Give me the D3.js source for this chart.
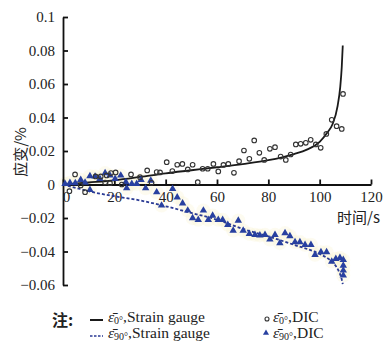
<!DOCTYPE html>
<html lang="zh">
<head>
<meta charset="UTF-8">
<style>
  body { margin: 0; background: #fff; }
  svg { display: block; }
  .tick text { font-family: "Times New Roman", "Liberation Serif", "DejaVu Serif", serif; font-size: 15px; fill: #222; }
  .cjk { font-family: "Noto Sans CJK SC", sans-serif; fill: #222; }
  .leg { font-family: "Times New Roman", "Liberation Serif", "DejaVu Serif", serif; font-size: 15.5px; fill: #222; }
</style>
</head>
<body>
<div id="chart"></div>
<script src="https://d3js.org/d3.v7.min.js"></script>
<script>
// strain gauge curves (time s, strain %)
var gauge0T = [0, 10, 20, 30, 40, 50, 60, 70, 80, 90, 95, 100, 103, 105, 107, 108, 108.6, 109]
var gauge0V = [0, 0.0012, 0.0025, 0.0045, 0.0067, 0.0085, 0.0103, 0.0122, 0.0145, 0.0182, 0.0208, 0.0255, 0.031, 0.036, 0.047, 0.058, 0.07, 0.083]
var gauge90T = [0, 5, 10, 20, 30, 40, 50, 60, 70, 80, 90, 100, 104, 106, 107.5, 108.5, 109]
var gauge90V = [0, -0.002, -0.004, -0.007, -0.0095, -0.013, -0.017, -0.021, -0.0265, -0.031, -0.036, -0.0415, -0.045, -0.048, -0.052, -0.056, -0.0595]

// DIC points
var dic0T = [2.5, 4.7, 6.9, 8.6, 12.7, 14.7, 16.4, 17, 18.3, 18.7, 20.5, 22.9, 26.5, 30, 32.8, 34.5, 36.5, 37.8, 40.4, 42.6, 44.5, 46.5, 48.6, 50.5, 52.5, 54.4, 56.4, 58.6, 60.5, 62.5, 64.4, 66.6, 68.6, 70.5, 72.6, 74.5, 76.5, 78.4, 80.6, 82.6, 84.8, 86.8, 88.7, 90.7, 92.6, 94.6, 96.5, 98.5, 100.4, 102.6, 104.7, 106.6, 108.6, 109.1]
var dic0V = [-0.004, 0.006, -0.0006, -0.0046, 0.0048, 0.0048, 0.0012, 0.0054, 0.0008, 0.0068, 0.0072, 0, 0.006, 0.0044, 0.0084, 0.001, 0.0074, 0.0072, 0.0133, 0.008, 0.0118, 0.0123, 0.009, 0.0118, 0.0014, 0.0094, 0.0094, 0.0123, 0.0078, 0.0117, 0.0123, 0.007, 0.0139, 0.0203, 0.0153, 0.0263, 0.0189, 0.0147, 0.0213, 0.0223, 0.0167, 0.0147, 0.0179, 0.0239, 0.0243, 0.0249, 0.0267, 0.0239, 0.0219, 0.0302, 0.0386, 0.0348, 0.0332, 0.0541]
var dic90T = [0.8, 2.7, 4.8, 6.9, 8.6, 10.5, 10.5, 12.5, 14.4, 16.4, 18.3, 20.3, 22.5, 24.5, 24.8, 26.8, 28.7, 30.4, 32.2, 34.2, 36.5, 38.4, 42.7, 44.5, 46.6, 48.6, 50.5, 52.7, 54.7, 56.6, 58.3, 60.5, 62.2, 64.2, 66.3, 68.3, 70.2, 72.6, 74.8, 76.7, 78.7, 80.6, 82.6, 84.5, 86.5, 88.4, 90.4, 92.3, 94.3, 96.6, 98.2, 100.5, 102.7, 104.7, 106.3, 107.9, 109.2, 109.2, 109.2, 109.2]
var dic90V = [0.0004, 0.001, 0.0008, 0.0028, 0.0012, 0.005, -0.0032, 0.0048, 0.0034, 0.0068, 0.0054, 0.0034, 0.0054, 0.0014, -0.0022, 0.0004, 0.0004, 0.0028, -0.0022, 0.0024, -0.0046, -0.0125, -0.0026, -0.0076, -0.0112, -0.0155, -0.0201, -0.0211, -0.0155, -0.0211, -0.0185, -0.0211, -0.0211, -0.0241, -0.0275, -0.0215, -0.0275, -0.0294, -0.03, -0.0304, -0.03, -0.0328, -0.03, -0.035, -0.029, -0.0308, -0.0344, -0.0344, -0.036, -0.036, -0.042, -0.0404, -0.0404, -0.046, -0.0444, -0.0438, -0.045, -0.0484, -0.0513, -0.0543]

var xTicks = [0, 20, 40, 60, 80, 100, 120]
var yTicks = [-0.06, -0.04, -0.02, 0, 0.02, 0.04, 0.06, 0.08, 0.1]

var width = 383, height = 343

var x = d3.scaleLinear().domain([0, 120]).range([63, 371])
var y = d3.scaleLinear().domain([-0.06, 0.1]).range([285, 17])

var svg = d3.select('#chart').append('svg')
  .attr('width', width)
  .attr('height', height)

function zip(ts, vs) { return ts.map(function(t, i) { return [t, vs[i]] }) }

// faint yellow scatter halo behind the 90° DIC points
svg.append('g').selectAll('circle')
  .data(zip(dic90T, dic90V))
  .enter().append('circle')
  .attr('cx', function(d) { return x(d[0]) })
  .attr('cy', function(d) { return y(d[1]) })
  .attr('r', 7)
  .attr('fill', '#faf2cc')
  .attr('opacity', 0.3)

var fmt = function(d) { return d === 0 ? '0' : d3.format('~g')(d).replace('-', '\u2212') }

var yAxis = svg.append('g')
  .attr('transform', 'translate(' + x(0) + ',0)')
  .call(d3.axisLeft(y).tickValues(yTicks).tickFormat(fmt).tickSizeInner(-5).tickSizeOuter(0).tickPadding(8))
yAxis.attr('font-family', null)
yAxis.select('.domain').attr('stroke', '#111').attr('stroke-width', 1.8)
yAxis.selectAll('.tick line').attr('stroke', '#111').attr('stroke-width', 1.8)

var xAxis = svg.append('g')
  .attr('transform', 'translate(0,' + y(0) + ')')
  .call(d3.axisBottom(x).tickValues(xTicks).tickFormat(d3.format('d')).tickSizeInner(-5).tickSizeOuter(0).tickPadding(7))
xAxis.attr('font-family', null)
xAxis.select('.domain').attr('stroke', '#111').attr('stroke-width', 1.8)
xAxis.selectAll('.tick line').attr('stroke', '#111').attr('stroke-width', 1.8)
xAxis.selectAll('.tick text').filter(function(d) { return d === 0 }).attr('dx', 3)

var line = d3.line()
  .x(function(d) { return x(d[0]) })
  .y(function(d) { return y(d[1]) })
  .curve(d3.curveMonotoneX)

svg.append('path')
  .datum(zip(gauge90T, gauge90V))
  .attr('d', line)
  .attr('fill', 'none')
  .attr('stroke', '#2a3a94')
  .attr('stroke-width', 1.8)
  .attr('stroke-dasharray', '3,2')

svg.append('path')
  .datum(zip(gauge0T, gauge0V))
  .attr('d', line)
  .attr('fill', 'none')
  .attr('stroke', '#1a1a1a')
  .attr('stroke-width', 1.8)

var tri = d3.symbol().type(d3.symbolTriangle).size(24)

svg.append('g').selectAll('path')
  .data(zip(dic90T, dic90V))
  .enter().append('path')
  .attr('d', tri)
  .attr('transform', function(d) { return 'translate(' + x(d[0]) + ',' + y(d[1]) + ')' })
  .attr('fill', '#2840a0')

svg.append('g').selectAll('circle')
  .data(zip(dic0T, dic0V))
  .enter().append('circle')
  .attr('cx', function(d) { return x(d[0]) })
  .attr('cy', function(d) { return y(d[1]) })
  .attr('r', 2.3)
  .attr('fill', 'none')
  .attr('stroke', '#333')
  .attr('stroke-width', 1.1)

// axis titles
svg.append('text')
  .attr('class', 'cjk')
  .attr('x', 380).attr('y', 223)
  .attr('text-anchor', 'end')
  .style('font-size', '15px')
  .text('时间/s')

svg.append('text')
  .attr('class', 'cjk')
  .attr('transform', 'translate(26,152) rotate(-90)')
  .attr('text-anchor', 'middle')
  .style('font-size', '15px')
  .text('应变/%')

// legend
svg.append('text')
  .attr('class', 'cjk')
  .attr('x', 52).attr('y', 326)
  .style('font-size', '16px')
  .style('font-weight', 'bold')
  .text('注:')

var legendItems = [
  { key: 'line', sub: '0°', label: ',Strain gauge', lx: 90, ly: 320, tx: 108 },
  { key: 'dash', sub: '90°', label: ',Strain gauge', lx: 90, ly: 336, tx: 108 },
  { key: 'circle', sub: '0°', label: ',DIC', lx: 267, ly: 319, tx: 273 },
  { key: 'tri', sub: '90°', label: ',DIC', lx: 266, ly: 333, tx: 273 }
]

legendItems.forEach(function(it) {
  var g = svg.append('g')
  if (it.key === 'line' || it.key === 'dash') {
    g.append('line')
      .attr('x1', it.lx).attr('x2', it.lx + 13)
      .attr('y1', it.ly).attr('y2', it.ly)
      .attr('stroke', it.key === 'line' ? '#1a1a1a' : '#2a3a94')
      .attr('stroke-width', it.key === 'line' ? 2 : 1.6)
      .attr('stroke-dasharray', it.key === 'dash' ? '2.5,1.5' : null)
  } else if (it.key === 'circle') {
    g.append('circle').attr('cx', it.lx).attr('cy', it.ly).attr('r', 2)
      .attr('fill', 'none').attr('stroke', '#333').attr('stroke-width', 1.1)
  } else {
    g.append('path').attr('d', d3.symbol().type(d3.symbolTriangle).size(16)).attr('transform', 'translate(' + it.lx + ',' + it.ly + ')').attr('fill', '#2840a0')
  }
  var ty = it.key === 'line' || it.key === 'circle' ? 322 : 338
  var t = g.append('text').attr('class', 'leg').attr('x', it.tx).attr('y', ty)
  t.append('tspan').style('font-style', 'italic').text('\u03b5\u0304')
  t.append('tspan').attr('dy', 2).style('font-size', '10px').text(it.sub)
  t.append('tspan').attr('dy', -2).text(it.label)
})
</script>
</body>
</html>
